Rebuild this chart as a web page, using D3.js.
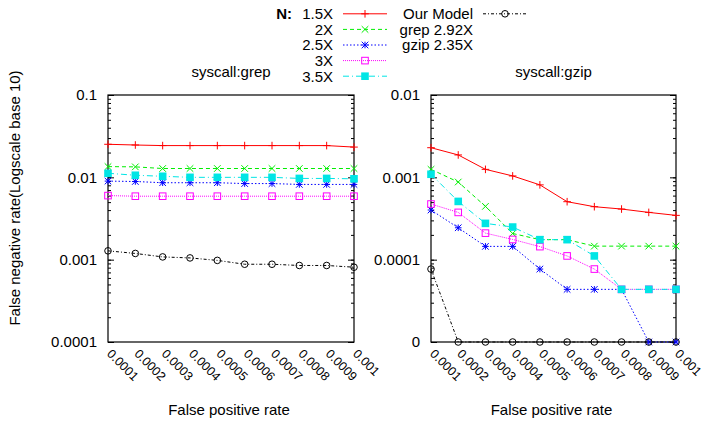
<!DOCTYPE html>
<meta charset="utf-8">
<style>
body { margin: 0; background: #fff; }
svg { font-family: "Liberation Sans", Arial, sans-serif; }
.frame { fill: none; stroke: #000; stroke-width: 1.2px; }
.axis path.domain { display: none; }
.axis line { stroke: #000; stroke-width: 1px; }
.axis text { font-size: 15px; fill: #000; }
.xlab { font-size: 12.5px; }
.title { font-size: 15px; }
.series { fill: none; stroke-width: 1px; }
</style>
<svg width="715" height="423"></svg>
<script src="https://cdnjs.cloudflare.com/ajax/libs/d3/7.8.5/d3.min.js"></script>
<script>

var fpr = [0.0001, 0.0002, 0.0003, 0.0004, 0.0005, 0.0006, 0.0007, 0.0008, 0.0009, 0.001]

// syscall:grep
var grep15 = [0.0252, 0.0247, 0.0243, 0.0243, 0.0243, 0.0243, 0.0243, 0.0243, 0.0243, 0.0233]
var grep2 = [0.0135, 0.0134, 0.0128, 0.0128, 0.0128, 0.0128, 0.0128, 0.0128, 0.0128, 0.0128]
var grep25 = [0.0090, 0.0089, 0.0086, 0.0086, 0.0086, 0.0084, 0.0084, 0.0082, 0.0082, 0.0082]
var grep3 = [0.0060, 0.0059, 0.0059, 0.0059, 0.0059, 0.0059, 0.0059, 0.0059, 0.0059, 0.0059]
var grep35 = [0.0112, 0.0106, 0.0103, 0.0100, 0.0100, 0.0100, 0.0100, 0.0097, 0.0097, 0.0096]
var grepModel = [0.00128, 0.00119, 0.00108, 0.00105, 0.00098, 0.00088, 0.00088, 0.00085, 0.00085, 0.00081]

// syscall:gzip (0 = no false negatives)
var gzip15 = [0.00229, 0.00187, 0.00125, 0.00104, 0.00081, 0.000506, 0.00044, 0.000412, 0.000375, 0.000345]
var gzip2 = [0.00125, 0.000877, 0.000444, 0.000208, 0.000175, 0.000175, 0.000146, 0.000146, 0.000146, 0.000146]
var gzip25 = [0.000401, 0.000244, 0.000145, 0.000145, 0.0000769, 0.0000436, 0.0000436, 0.0000436, 0, 0]
var gzip3 = [0.000474, 0.000375, 0.00021, 0.000176, 0.000144, 0.000111, 0.0000769, 0.0000436, 0.0000436, 0.0000436]
var gzip35 = [0.00109, 0.00051, 0.000276, 0.000249, 0.000175, 0.000175, 0.000111, 0.0000436, 0.0000436, 0.0000436]
var gzipModel = [0.0000769, 0, 0, 0, 0, 0, 0, 0, 0, 0]

var legendN = ["1.5X", "2X", "2.5X", "3X", "3.5X"]
var legendRight = ["Our Model", "grep 2.92X", "gzip 2.35X"]

var styles = [
  {color: "#ff0000", dash: null, mark: "plus"},
  {color: "#00ee00", dash: "4,3", mark: "cross"},
  {color: "#0000ff", dash: "1.5,2", mark: "star"},
  {color: "#ff00ff", dash: "1,1", mark: "square"},
  {color: "#00e5e5", dash: "6,3,1,3", mark: "fsquare"},
  {color: "#000000", dash: "3,2,1,2", mark: "circle"}
]

var svg = d3.select("svg")

function marker(g, type, color, x, y) {
  var s = 3.8
  if (type == "plus") {
    g.append("path").attr("d", "M" + (x - s) + "," + y + "H" + (x + s) + "M" + x + "," + (y - s) + "V" + (y + s))
      .attr("stroke", color).attr("fill", "none")
  } else if (type == "cross") {
    s = 3.3
    g.append("path").attr("d", "M" + (x - s) + "," + (y - s) + "L" + (x + s) + "," + (y + s) + "M" + (x - s) + "," + (y + s) + "L" + (x + s) + "," + (y - s))
      .attr("stroke", color).attr("fill", "none")
  } else if (type == "star") {
    s = 3.3
    g.append("path").attr("d", "M" + (x - s) + "," + (y - s) + "L" + (x + s) + "," + (y + s) + "M" + (x - s) + "," + (y + s) + "L" + (x + s) + "," + (y - s)
        + "M" + (x - s) + "," + y + "H" + (x + s) + "M" + x + "," + (y - s) + "V" + (y + s))
      .attr("stroke", color).attr("fill", "none")
  } else if (type == "square") {
    s = 3.3
    g.append("rect").attr("x", x - s).attr("y", y - s).attr("width", 2 * s).attr("height", 2 * s)
      .attr("stroke", color).attr("fill", "none")
  } else if (type == "fsquare") {
    s = 3.8
    g.append("rect").attr("x", x - s).attr("y", y - s).attr("width", 2 * s).attr("height", 2 * s)
      .attr("fill", color)
  } else if (type == "circle") {
    g.append("circle").attr("cx", x).attr("cy", y).attr("r", 3.3)
      .attr("stroke", color).attr("fill", "none")
  }
}

function panel(opts) {
  var x = d3.scaleLinear().domain([0.0001, 0.001]).range([opts.left, opts.right])
  var y = d3.scaleLog().domain(opts.ydomain).range([342, 95]).clamp(true)
  var g = svg.append("g")

  var majors = y.ticks().filter(function(v) { return Math.abs(Math.log10(v) - Math.round(Math.log10(v))) < 1e-9 })
  var minors = y.ticks()

  g.append("g").attr("class", "axis").attr("transform", "translate(" + opts.left + ",0)")
    .call(d3.axisLeft(y).tickValues(minors).tickSize(-3).tickFormat(""))
  g.append("g").attr("class", "axis").attr("transform", "translate(" + opts.left + ",0)")
    .call(d3.axisLeft(y).tickValues(majors).tickSize(-6).tickPadding(11).tickFormat(opts.fmt))
  g.append("g").attr("class", "axis").attr("transform", "translate(" + opts.right + ",0)")
    .call(d3.axisRight(y).tickValues(minors).tickSize(-3).tickFormat(""))
  g.append("g").attr("class", "axis").attr("transform", "translate(" + opts.right + ",0)")
    .call(d3.axisRight(y).tickValues(majors).tickSize(-6).tickFormat(""))

  // rotated x labels
  g.selectAll(".xlab").data(fpr).enter().append("text")
    .attr("class", "xlab")
    .attr("transform", function(d) { return "translate(" + x(d) + ",350) rotate(45)" })
    .attr("dx", 2).attr("dy", ".35em")
    .text(function(d) { return String(+d.toFixed(4)) })

  g.append("rect").attr("class", "frame")
    .attr("x", opts.left).attr("y", 95).attr("width", opts.right - opts.left).attr("height", 247)

  var yv = function(v) { return v <= 0 ? y(opts.ydomain[0]) : y(v) }
  var line = d3.line().x(function(d, i) { return x(fpr[i]) }).y(function(d) { return yv(d) })

  opts.series.forEach(function(s, k) {
    var st = styles[k]
    g.append("path").datum(s).attr("class", "series")
      .attr("stroke", st.color).attr("stroke-dasharray", st.dash).attr("d", line)
    var mg = g.append("g")
    s.forEach(function(v, i) { marker(mg, st.mark, st.color, x(fpr[i]), yv(v)) })
  })

  g.append("text").attr("class", "title").attr("x", (opts.left + opts.right) / 2).attr("y", 77)
    .attr("text-anchor", "middle").text(opts.title)
  g.append("text").attr("class", "title").attr("x", (opts.left + opts.right) / 2 - 2).attr("y", 415)
    .attr("text-anchor", "middle").text("False positive rate")
}

panel({
  left: 108, right: 354, ydomain: [0.0001, 0.1], title: "syscall:grep",
  fmt: function(d) { return String(+d.toPrecision(1)) },
  series: [grep15, grep2, grep25, grep3, grep35, grepModel]
})
panel({
  left: 431, right: 676, ydomain: [0.00001, 0.01], title: "syscall:gzip",
  fmt: function(d) { return d < 0.00005 ? "0" : String(+d.toPrecision(1)) },
  series: [gzip15, gzip2, gzip25, gzip3, gzip35, gzipModel]
})

svg.append("text").attr("class", "title")
  .attr("transform", "translate(20,198) rotate(-90)")
  .attr("text-anchor", "middle")
  .text("False negative rate(Logscale base 10)")

// legend
var leg = svg.append("g")
var rowY = function(i) { return 13.8 + i * 15.6 }
leg.append("text").attr("class", "title").attr("x", 292).attr("y", rowY(0) + 5.3)
  .attr("text-anchor", "end").style("font-weight", "bold").text("N:")
legendN.forEach(function(t, i) {
  var st = styles[i]
  leg.append("text").attr("class", "title").attr("x", 333).attr("y", rowY(i) + 5.3)
    .attr("text-anchor", "end").text(t)
  leg.append("line").attr("x1", 343).attr("x2", 387).attr("y1", rowY(i)).attr("y2", rowY(i))
    .attr("stroke", st.color).attr("stroke-dasharray", st.dash)
  marker(leg, st.mark, st.color, 365, rowY(i))
})
legendRight.forEach(function(t, i) {
  leg.append("text").attr("class", "title").attr("x", 473).attr("y", rowY(i) + 5.3)
    .attr("text-anchor", "end").text(t)
})
var stm = styles[5]
leg.append("line").attr("x1", 483).attr("x2", 527).attr("y1", rowY(0)).attr("y2", rowY(0))
  .attr("stroke", stm.color).attr("stroke-dasharray", stm.dash)
marker(leg, stm.mark, stm.color, 505, rowY(0))

</script>
